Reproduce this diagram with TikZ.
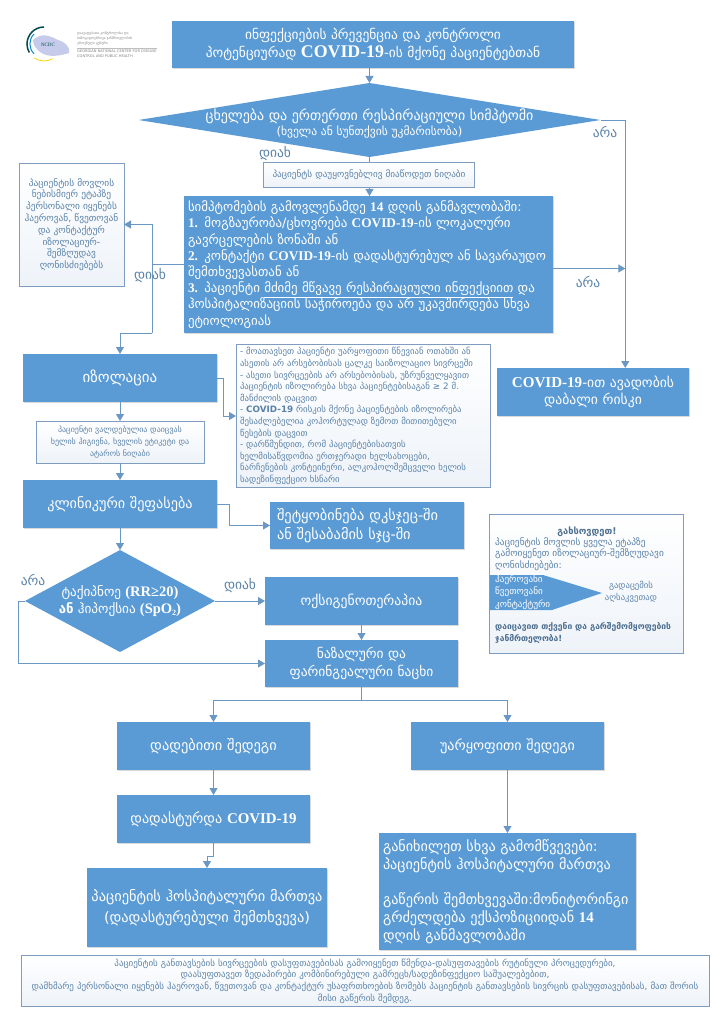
\documentclass[tikz,border=0pt]{standalone}
\usepackage{fontspec}
\setmainfont{DejaVu Sans}
\newfontfamily\latsf{Liberation Serif}
\usetikzlibrary{arrows.meta,shapes.geometric,shadows,calc}
\definecolor{blueFill}{HTML}{5B9BD5}
\definecolor{connC}{HTML}{6A97C4}
\definecolor{edgeC}{HTML}{7F9DBE}
\definecolor{softText}{HTML}{5A82A8}
\definecolor{softBg}{HTML}{EEF3F9}
\newcommand\ltn[2][1.1]{{\latsf\bfseries\fontsize{#1em}{1em}\selectfont #2}}
\newcommand\jl[1]{\makebox[\hsize][s]{#1}}
\newcommand\bx[7]{%
  \pgfmathsetmacro\cxx{(#3+#5)/2}\pgfmathsetmacro\cyy{(#4+#6)/2}%
  \pgfmathsetmacro\wwd{#5-#3}\pgfmathsetmacro\hgt{#6-#4}%
  \node[#1,minimum width=\wwd pt,minimum height=\hgt pt,text width=\wwd pt-8pt] (#2) at (\cxx,\cyy) {#7};}
\tikzset{
  solid box/.style={fill=blueFill,text=white,align=center,inner sep=3pt,outer sep=0pt,
     drop shadow={shadow xshift=.8pt,shadow yshift=-.8pt,opacity=.3,fill=black!50}},
  soft box/.style={draw=edgeC,line width=.8pt,top color=white,bottom color=softBg,text=softText,align=center,inner sep=3pt,outer sep=0pt},
  conn/.style={draw=connC,line width=.9pt},
  arr/.style={conn,-{Triangle[length=7pt,width=8pt,fill=connC]}},
  solid diamond/.style={diamond,fill=blueFill,inner sep=0pt,outer sep=0pt,aspect=2},
  plain label/.style={text=softText,inner sep=0pt,font=\fontsize{13.5}{15}\selectfont},
}
\begin{document}
\begin{tikzpicture}[x=1pt,y=-1pt]
\useasboundingbox (0,0) rectangle (720,1024);
% logo
\fill[cyan!30!blue!22] (33,40) .. controls (42,32) and (50,36) .. (58,40) .. controls (64,42) and (70,45) .. (69,53) .. controls (60,56) and (48,58) .. (40,52) .. controls (36,48) and (33,46) .. (33,40) -- cycle;
\draw[teal!60!black,line width=1.5pt] (44,27) arc[start angle=-90,end angle=-210,radius=17];
\draw[cyan!70!blue,line width=1pt] (34,34) arc[start angle=-135,end angle=-225,radius=14];
\draw[yellow!70!orange,line width=.8pt] (52.5,58.7) arc[start angle=60,end angle=125,radius=17];
\node[inner sep=0pt,text=teal!60!black,font=\latsf\fontsize{5}{6}\selectfont] (logoN) at (48,45) {NCDC};
\node[anchor=north west,inner sep=0pt,align=left,text=gray,font=\fontsize{3.4}{5}\selectfont] (logoKa) at (77,31) {დაავადებათა კონტროლისა და\\საზოგადოებრივი ჯანმრთელობის\\ეროვნული ცენტრი};
\node[anchor=north west,inner sep=0pt,align=left,text=gray,font=\fontsize{3.6}{5}\selectfont] (logoEn) at (77,49.5) {GEORGIAN NATIONAL CENTER FOR DISEASE\\CONTROL AND PUBLIC HEALTH};
\draw[gray!50,line width=.3pt] (77,48) -- (logoEn.north east |- 0,48);
% boxes
\bx{solid box,font=\fontsize{13.5}{18}\selectfont}{title}{172}{21}{574}{68}{ინფექციების პრევენცია და კონტროლი\\პოტენციურად \ltn[1.32]{COVID-19}-ის მქონე პაციენტებთან}
\node[solid diamond,minimum width=462pt,minimum height=74pt] (d1) at (369.5,120) {};
\node[text=white,align=center,inner sep=0pt,font=\fontsize{14}{15}\selectfont] (d1t) at ($(d1.center)+(0,4)$) {ცხელება და ერთერთი რესპირაციული სიმპტომი\\{\fontsize{11.6}{14}\selectfont (ხველა ან სუნთქვის უკმარისობა)}};
\bx{soft box,font=\fontsize{9.2}{11}\selectfont}{mask}{263.5}{162}{474.5}{187}{პაციენტს დაუყოვნებლივ მიაწოდეთ ნიღაბი}
\bx{soft box,font=\fontsize{9.4}{11.8}\selectfont}{side}{19}{163}{124}{286}{პაციენტის მოვლის\\ნებისმიერ ეტაპზე\\პერსონალი იყენებს\\ჰაეროვან, წვეთოვან\\და კონტაქტურ\\იზოლაციურ-\\შემზღუდავ\\ღონისძიებებს}
\bx{solid box,align=left,font=\fontsize{12.9}{16.2}\selectfont}{main}{184}{196}{553}{333}{სიმპტომების გამოვლენამდე \ltn[1.03]{14} დღის განმავლობაში:\\\ltn[1.03]{1.} მოგზაურობა/ცხოვრება \ltn[1.03]{COVID-19}-ის ლოკალური\\გავრცელების ზონაში ან\\\mbox{\ltn[1.03]{2.} კონტაქტი \ltn[1.03]{COVID-19}-ის დადასტურებულ ან სავარაუდო}\\შემთხვევასთან ან\\\ltn[1.03]{3.} პაციენტი \underline{მძიმე მწვავე რესპირაციული ინფექციით} და\\ჰოსპიტალიზაციის საჭიროება და არ უკავშირდება სხვა\\ეტიოლოგიას}
\bx{solid box,font=\fontsize{15}{16}\selectfont}{iso}{23}{354}{217}{402}{იზოლაცია}
\bx{soft box,font=\fontsize{8}{11.7}\selectfont}{hand}{36}{421}{204}{463}{პაციენტი ვალდებულია დაიცვას\\ხელის ჰიგიენა, ხველის ეტიკეტი და\\ატაროს ნიღაბი}
\bx{soft box,align=left,font=\fontsize{8.8}{11.6}\selectfont}{info}{236}{347}{490}{485}{\jl{- მოათავსეთ პაციენტი უარყოფითი წნევიან ოთახში ან}\\ასეთის არ არსებობისას ცალკე საიზოლაციო სივრცეში\\\jl{- ასეთი სივრცეების არ არსებობისას, უზრუნველყავით}\\\jl{პაციენტის იზოლირება სხვა პაციენტებისაგან ≥ 2 მ.}\\მანძილის დაცვით\\\jl{- {\bfseries COVID-19} რისკის მქონე პაციენტების იზოლირება}\\\jl{შესაძლებელია კოჰორტულად ზემოთ მითითებული}\\წესების დაცვით\\\jl{- დარწმუნდით, რომ პაციენტებისათვის}\\\jl{ხელმისაწვდომია ერთჯერადი ხელსახოცები,}\\\jl{ნარჩენების კონტეინერი, ალკოჰოლშემცველი ხელის}\\სადეზინფექციო ხსნარი}
\bx{solid box,font=\fontsize{13.7}{17.7}\selectfont}{low}{497}{368}{689}{416}{\ltn[1.1]{COVID-19}-ით ავადობის\\დაბალი რისკი}
\bx{solid box,font=\fontsize{14.2}{16}\selectfont}{clin}{23}{480}{217}{528}{კლინიკური შეფასება}
\bx{solid box,align=left,font=\fontsize{14.4}{18.7}\selectfont}{notif}{270}{502}{464}{549}{\hspace*{3pt}შეტყობინება დკსჯეც-ში\\\hspace*{3pt}ან შესაბამის სჯც-ში}
\node[solid diamond,minimum width=190pt,minimum height=102pt] (d2) at (120,601) {};
\node[text=white,align=center,inner sep=0pt,font=\fontsize{13.2}{17.7}\selectfont] (d2t) at (d2.center) {ტაქიპნოე \ltn[1.1]{(RR≥20)}\\{\bfseries ან} ჰიპოქსია \ltn[1.1]{(SpO\raisebox{-.2ex}{\fontsize{8}{8}\selectfont 2})}};
\bx{solid box,font=\fontsize{13.7}{16}\selectfont}{oxy}{265}{577}{458}{625}{ოქსიგენოთერაპია}
\bx{solid box,font=\fontsize{13.5}{17.7}\selectfont}{swab}{265}{640}{458}{687}{ნაზალური და\\ფარინგეალური ნაცხი}
\bx{solid box,font=\fontsize{14.4}{16}\selectfont}{pos}{117}{722}{310}{770}{დადებითი შედეგი}
\bx{solid box,font=\fontsize{14.1}{16}\selectfont}{neg}{411}{722}{604}{770}{უარყოფითი შედეგი}
\bx{solid box,font=\fontsize{14.2}{16}\selectfont}{conf}{117}{795}{310}{843}{დადასტურდა \ltn[1.05]{COVID-19}}
\bx{solid box,font=\fontsize{14.4}{20.5}\selectfont}{hosp}{87}{868}{327}{947}{პაციენტის ჰოსპიტალური მართვა\\(დადასტურებული შემთხვევა)}
\bx{solid box,align=left,font=\fontsize{14.2}{17.7}\selectfont}{cons}{379}{833}{636}{950}{განიხილეთ სხვა გამომწვევები:\\პაციენტის ჰოსპიტალური მართვა\\[17.7pt]გაწერის შემთხვევაში:მონიტორინგი\\გრძელდება ექსპოზიციიდან \ltn[1.05]{14}\\დღის განმავლობაში}
\bx{soft box,font=\fontsize{9}{11.8}\selectfont}{foot}{21}{957}{709}{1005}{პაციენტის განთავსების სივრცეების დასუფთავებისას გამოიყენეთ წმენდა-დასუფთავების რუტინული პროცედურები,\\დაასუფთავეთ ზედაპირები კომბინირებული გამრეცხ/სადეზინფექციო საშუალებებით,\\დამხმარე პერსონალი იყენებს ჰაეროვან, წვეთოვან და კონტაქტურ უსაფრთხოების ზომებს პაციენტის განთავსების სივრცის დასუფთავებისას, მათ შორის\\მისი გაწერის შემდეგ.}
% reminder
\bx{soft box,draw=edgeC}{rem}{489}{514}{683}{653}{}
\node[inner sep=0pt,text=softText!85!black,font=\bfseries\fontsize{9.3}{10}\selectfont] (remA) at (587,532) {გახსოვდეთ!};
\node[anchor=north west,inner sep=0pt,align=left,text=softText,font=\fontsize{9.4}{11.3}\selectfont] (remB) at (495,537.5) {პაციენტის მოვლის ყველა ეტაპზე\\გამოიყენეთ იზოლაციურ-შემზღუდავი\\ღონისძიებები:};
\fill[blueFill] (490,575) -- (543,575) -- (602,593) -- (552,610) -- (490,610) -- cycle;
\node[anchor=north west,inner sep=0pt,align=left,text=white,font=\fontsize{9.2}{12.4}\selectfont] (remC) at (495,574.5) {ჰაეროვანი\\წვეთოვანი\\კონტაქტური};
\node[inner sep=0pt,align=center,text=softText,font=\fontsize{8.7}{11.7}\selectfont] (remD) at (631,592) {გადაცემის\\აღსაკვეთად};
\node[anchor=north west,inner sep=0pt,align=left,text=softText!85!black,font=\bfseries\fontsize{8.5}{12.3}\selectfont] (remE) at (495,622) {დაიცავით თქვენი და გარშემომყოფების\\ჯანმრთელობა!};
% labels
\node[plain label] (l1) at (605,132) {არა};
\node[plain label] (l2) at (275,153) {დიახ};
\node[plain label] (l3) at (588,282) {არა};
\node[plain label] (l4) at (150,275) {დიახ};
\node[plain label] (l5) at (33,580) {არა};
\node[plain label] (l6) at (240,585) {დიახ};
% named free points
\coordinate (lowin) at (625.3,368);
\coordinate (mainR) at ($(main.east)+(0,4)$);
\coordinate (lj) at (152,264.5);
\coordinate (turn) at (152,333);
\coordinate (split) at ($(swab.south)+(0,13)$);
% connectors
\draw[arr] (title.south -| d1.north) -- (d1.north);
\draw[conn] (d1.south) -- (mask.north -| d1.south);
\draw[arr] (mask.south -| d1.south) -- (main.north -| d1.south);
\draw[arr] (d1.east) -| (lowin);
\draw[arr] (mainR) -- (mainR -| lowin);
\draw[conn] (main.west) -- (lj);
\draw[arr] (lj) |- (side.east);
\draw[conn] (lj) -- (turn);
\draw[arr] (turn) -| (iso.north);
\draw[arr] (iso.east) -- ++(6,0) |- (info.west);
\draw[arr] (iso.south) -- (hand.north);
\draw[arr] (hand.south) -- (clin.north);
\draw[arr] (clin.east) -- ++(12,0) |- (notif.west);
\draw[arr] (clin.south) -- (d2.north);
\draw[arr] (d2.east) -- (oxy.west);
\draw[arr] (d2.west) -- ++(-7,0) |- (swab.west);
\draw[arr] (oxy.south) -- (swab.north);
\draw[conn] (swab.south) -- (split);
\draw[arr] (split) -| (pos.north);
\draw[arr] (split) -| (neg.north);
\draw[arr] (pos.south) -- (conf.north);
\draw[arr] (conf.south) -- ++(0,13) -| (hosp.north);
\draw[arr] (neg.south) -- (cons.north -| neg.south);
\end{tikzpicture}
\end{document}
